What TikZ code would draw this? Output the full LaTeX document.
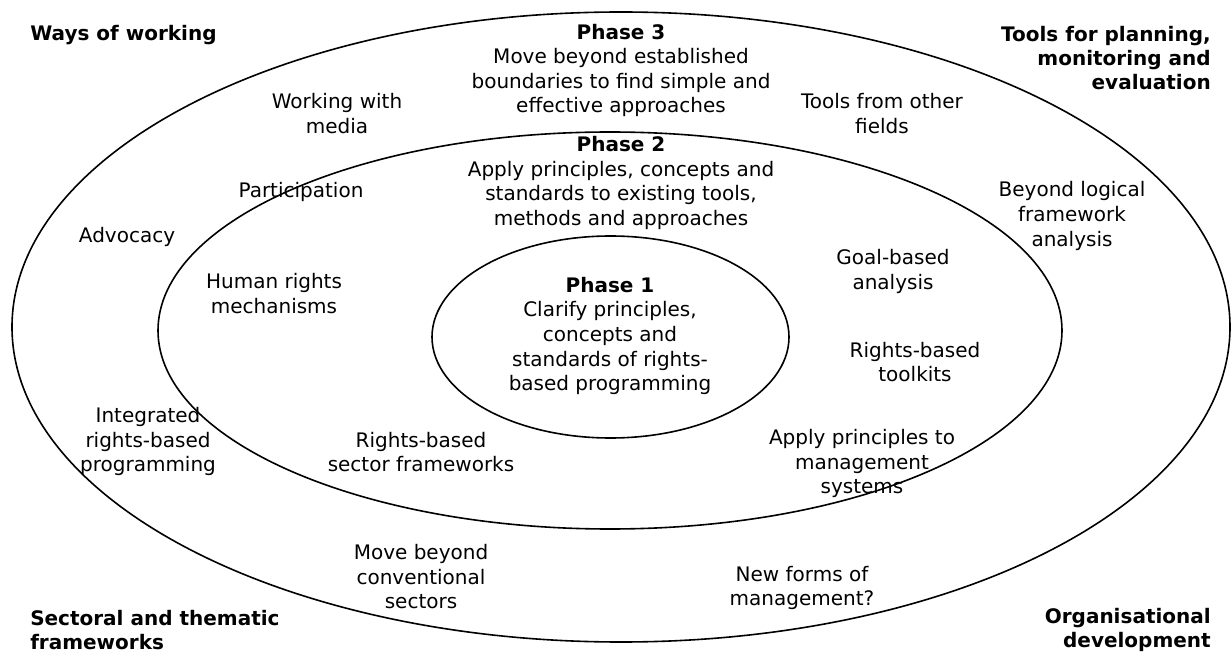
\documentclass[tikz,border=0pt]{standalone}
\usepackage{fontspec}
\setmainfont{DejaVu Sans}
\begin{document}
\begin{tikzpicture}[x=0.75pt,y=-0.75pt,
  ring/.style={draw=black,line width=1.2pt},
  lbl/.style={align=center,inner sep=0pt,font=\fontsize{15}{18.4}\selectfont},
  cornerL/.style={align=left,inner sep=0pt,font=\fontsize{15}{18}\selectfont\bfseries},
  cornerR/.style={align=right,inner sep=0pt,font=\fontsize{15}{18}\selectfont\bfseries}]
\useasboundingbox (0,0) rectangle (1232,652);
% rings
\draw[ring] (621,327) ellipse [x radius=609, y radius=315];
\draw[ring] (610,330.5) ellipse [x radius=452, y radius=198.5];
\draw[ring] (610.5,337) ellipse [x radius=178.5, y radius=101];
% corner headings
\node[cornerL,anchor=west] (ways) at (30,35) {Ways of working};
\node[cornerR,anchor=east] (tools) at (1211,58) {Tools for planning,\\monitoring and\\evaluation};
\node[cornerL,anchor=west] (sect) at (30,630) {Sectoral and thematic\\frameworks};
\node[cornerR,anchor=east] (org) at (1211,630) {Organisational\\development};
% phases
\node[lbl] (p3) at (621,70.5) {\textbf{Phase 3}\\Move beyond established\\boundaries to find simple and\\effective approaches};
\node[lbl] (p2) at (621,183) {\textbf{Phase 2}\\Apply principles, concepts and\\standards to existing tools,\\methods and approaches};
\node[lbl] (p1) at (610,336) {\textbf{Phase 1}\\Clarify principles,\\concepts and\\standards of rights-\\based programming};
% labels
\node[lbl] (media) at (337,113.5) {Working with\\media};
\node[lbl] (other) at (882,113.5) {Tools from other\\fields};
\node[lbl] (part) at (301,192) {Participation};
\node[lbl] (adv) at (127,237) {Advocacy};
\node[lbl] (logf) at (1072,216) {Beyond logical\\framework\\analysis};
\node[lbl] (hrm) at (274,293.5) {Human rights\\mechanisms};
\node[lbl] (goal) at (893,271.5) {Goal-based\\analysis};
\node[lbl] (kits) at (915,362) {Rights-based\\toolkits};
\node[lbl] (irbp) at (148,441.5) {Integrated\\rights-based\\programming};
\node[lbl] (rbsf) at (421,452) {Rights-based\\sector frameworks};
\node[lbl] (mgmt) at (862,463.5) {Apply principles to\\management\\systems};
\node[lbl] (conv) at (421,577) {Move beyond\\conventional\\sectors};
\node[lbl] (newf) at (802,588) {New forms of\\management?};
\end{tikzpicture}
\end{document}
